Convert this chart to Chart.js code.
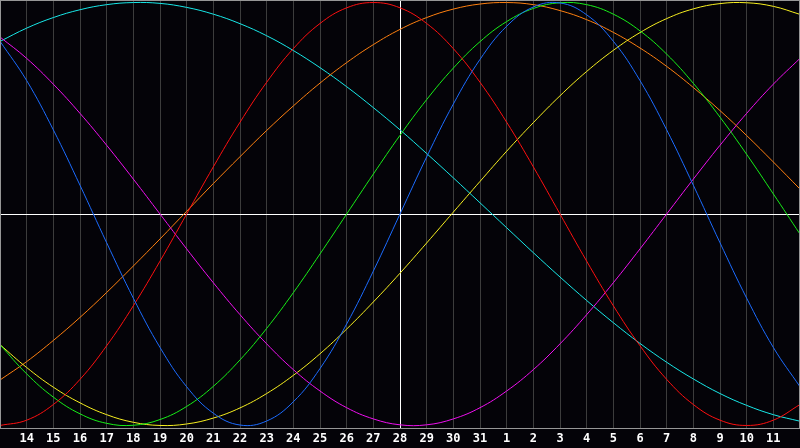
<!DOCTYPE html>
<html>
<head>
<meta charset="utf-8">
<script src="https://cdn.jsdelivr.net/npm/chart.js@4.4.1/dist/chart.umd.min.js"></script>
<style>
  html, body { margin: 0; padding: 0; background: #040308; }
  #wrap { width: 800px; height: 448px; }
</style>
</head>
<body>
<div id="wrap"><canvas id="chart"></canvas></div>
<script>
// day of month, from the 13th to the 12th of next month
const days = ['13', '14', '15', '16', '17', '18', '19', '20', '21', '22', '23', '24', '25', '26', '27',
  '28', '29', '30', '31', '1', '2', '3', '4', '5', '6', '7', '8', '9', '10', '11', '12'];

const todayIndex = 15; // the 28th, white marker line

// cycle values in percent
const physical = [81.7, 63.1, 39.8, 13.6, -13.6, -39.8, -63.1, -81.7, -94.2, -99.8, -97.9, -88.8, -73.1, -52.0, -27.0,
  0, 27.0, 52.0, 73.1, 88.8, 97.9, 99.8, 94.2, 81.7, 63.1, 39.8, 13.6, -13.6, -39.8, -63.1, -81.7];
const emotional = [-100, -97.5, -90.1, -78.2, -62.3, -43.4, -22.3, 0, 22.3, 43.4, 62.3, 78.2, 90.1, 97.5, 100,
  97.5, 90.1, 78.2, 62.3, 43.4, 22.3, 0, -22.3, -43.4, -62.3, -78.2, -90.1, -97.5, -100, -97.5, -90.1];
const intellectual = [-61.8, -75.6, -86.6, -94.5, -99.0, -99.9, -97.2, -91.0, -81.5, -69.0, -54.1, -37.2, -18.9, 0, 18.9,
  37.2, 54.1, 69.0, 81.5, 91.0, 97.2, 99.9, 99.0, 94.5, 86.6, 75.6, 61.8, 45.8, 28.2, 9.5, -9.5];
const intuitive = [83.7, 73.6, 61.4, 47.6, 32.5, 16.5, 0, -16.5, -32.5, -47.6, -61.4, -73.6, -83.7, -91.6, -96.9,
  -99.7, -99.7, -96.9, -91.6, -83.7, -73.6, -61.4, -47.6, -32.5, -16.5, 0, 16.5, 32.5, 47.6, 61.4, 73.6];
const aesthetic = [-61.8, -72.6, -81.9, -89.3, -94.9, -98.5, -100.0, -99.3, -96.5, -91.7, -84.9, -76.3, -66.1, -54.4, -41.6,
  -28.0, -13.7, 0.9, 15.4, 29.7, 43.2, 55.9, 67.4, 77.4, 85.8, 92.4, 97.0, 99.5, 99.9, 98.2, 94.4];
const awareness = [-78.5, -69.8, -59.8, -48.9, -37.1, -24.6, -11.8, 1.3, 14.4, 27.1, 39.5, 51.1, 61.9, 71.6, 80.1,
  87.3, 92.9, 96.9, 99.3, 100.0, 99.0, 96.2, 91.9, 85.9, 78.5, 69.8, 59.8, 48.9, 37.1, 24.6, 11.8];
const spiritual = [81.6, 87.9, 92.9, 96.6, 99.0, 100.0, 99.6, 97.7, 94.5, 90.0, 84.3, 77.3, 69.2, 60.2, 50.3,
  39.8, 28.6, 17.1, 5.3, -6.5, -18.3, -29.8, -40.9, -51.4, -61.2, -70.1, -78.0, -84.9, -90.5, -94.9, -98.0];

function line(data, color) {
  return {
    data: data,
    borderColor: color,
    borderWidth: 1,
    pointRadius: 0,
    tension: 0.4,
    fill: false
  };
}

// gray frame round the plot area
const framePlugin = {
  id: 'frame',
  afterDraw(chart) {
    const { ctx, chartArea: a } = chart;
    ctx.save();
    ctx.strokeStyle = '#969696';
    ctx.lineWidth = 1;
    ctx.strokeRect(a.left + 0.5, a.top + 0.5, a.right - a.left - 1, a.bottom - a.top);
    ctx.restore();
  }
};

new Chart(document.getElementById('chart'), {
  type: 'line',
  data: {
    labels: days,
    datasets: [
      line(physical, '#1c6cff'),
      line(emotional, '#ff1010'),
      line(intellectual, '#18f018'),
      line(intuitive, '#f010f0'),
      line(aesthetic, '#f8f020'),
      line(awareness, '#ff8010'),
      line(spiritual, '#18e8e8')
    ]
  },
  options: {
    responsive: true,
    maintainAspectRatio: false,
    animation: false,
    layout: { padding: { left: 0, right: 0, top: 0, bottom: -2 } },
    plugins: {
      legend: { display: false },
      tooltip: { enabled: false }
    },
    scales: {
      x: {
        offset: false,
        grid: {
          color: (ctx) => ctx.index === todayIndex ? '#ffffff' : '#3c3c3c',
          lineWidth: 1,
          drawTicks: false
        },
        border: { display: true, color: '#969696' },
        ticks: {
          autoSkip: false,
          maxRotation: 0,
          padding: 0,
          color: '#ffffff',
          font: { family: 'DejaVu Sans Mono', size: 12, weight: 'bold', lineHeight: '22px' },
          callback: (v, i) => (i === 0 || i === days.length - 1) ? '' : days[i]
        }
      },
      y: {
        min: -101.2,
        max: 101.2,
        afterBuildTicks: (scale) => { scale.ticks = [{ value: 0 }]; },
        grid: { color: '#ffffff', lineWidth: 1, drawTicks: false },
        border: { display: false },
        ticks: { display: false }
      }
    }
  },
  plugins: [framePlugin]
});
</script>
</body>
</html>
